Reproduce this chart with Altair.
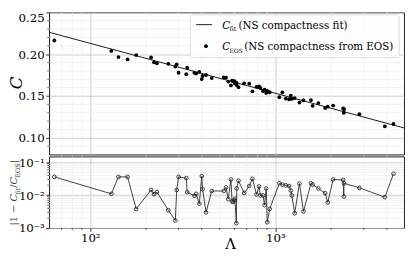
import altair as alt
import pandas as pd

# ---- data ----
lam = [64, 130, 142, 159, 177, 213, 221, 229, 264, 288,
       293, 300, 330, 334, 365, 373, 388, 400, 404, 422,
       453, 526, 541, 556, 575, 583, 590, 600, 604, 615,
       618, 632, 678, 722, 751, 791, 816, 830, 857, 874,
       892, 903, 931, 1050, 1090, 1137, 1185, 1210, 1226, 1270,
       1348, 1417, 1556, 1588, 1706, 1855, 1916, 2050, 2321, 2340,
       2345, 2840, 3900, 4340]
c_eos = [0.2164, 0.2039, 0.1965, 0.1937, 0.1989, 0.1961, 0.1903, 0.1891, 0.1885, 0.1852,
         0.1878, 0.1778, 0.1760, 0.1839, 0.1777, 0.1768, 0.1788, 0.1703, 0.1740, 0.1751,
         0.1715, 0.1722, 0.1721, 0.1672, 0.1626, 0.1683, 0.1679, 0.1677, 0.1650, 0.1660,
         0.1631, 0.1606, 0.1652, 0.1648, 0.1556, 0.1610, 0.1614, 0.1596, 0.1558, 0.1575,
         0.1537, 0.1561, 0.1545, 0.1485, 0.1544, 0.1469, 0.1461, 0.1503, 0.1465, 0.1475,
         0.1422, 0.1447, 0.1451, 0.1383, 0.1416, 0.1356, 0.1372, 0.1386, 0.1352, 0.1300,
         0.1342, 0.1283, 0.1138, 0.1166]
resid = [0.036, 0.011, 0.036, 0.036, 0.0038, 0.0144, 0.0107, 0.0125, 0.0035, 0.0017,
         0.0144, 0.036, 0.033, 0.0123, 0.0096, 0.011, 0.0055, 0.038, 0.0153, 0.003,
         0.0134, 0.0134, 0.0172, 0.0076, 0.030, 0.0065, 0.0062, 0.007, 0.0078, 0.0014,
         0.016, 0.0276, 0.0117, 0.019, 0.0316, 0.0105, 0.0184, 0.0098, 0.0098, 0.005,
         0.016, 0.0015, 0.0038, 0.023, 0.021, 0.020, 0.019, 0.0138, 0.0098, 0.0028,
         0.0226, 0.0032, 0.023, 0.021, 0.016, 0.0115, 0.006, 0.030, 0.029, 0.0091,
         0.023, 0.0167, 0.0087, 0.045]
fit_lam = [60, 4950]
fit_c = [0.2262, 0.1118]

x_major = [100, 1000]
x_minor = [70, 80, 90, 200, 300, 400, 500, 600, 700, 800, 900, 2000, 3000, 4000]
c_major = [0.10, 0.15, 0.20, 0.25]
c_minor = [0.09, 0.11, 0.12, 0.13, 0.14, 0.16, 0.17, 0.18, 0.19, 0.21, 0.22, 0.23, 0.24]
r_major = [0.001, 0.01, 0.1]
r_minor = [0.002, 0.003, 0.004, 0.005, 0.006, 0.007, 0.008, 0.009,
           0.02, 0.03, 0.04, 0.05, 0.06, 0.07, 0.08, 0.09]

W, H1, H2 = 362, 145, 73
FONT = "DejaVu Serif"
MAJ = "#c0c0c0"
MIN = "#ebebeb"

xscale = alt.Scale(type="log", domain=[60, 4950], nice=False)
cscale = alt.Scale(domain=[0.08, 0.25], nice=False, zero=False)
rscale = alt.Scale(type="log", domain=[0.001, 0.15], nice=False)

pts = pd.DataFrame({"lam": lam, "C": c_eos, "r": resid})
fit = pd.DataFrame({"lam": fit_lam, "C": fit_c})
xmin_df = pd.DataFrame({"lam": x_minor})
cmin_df = pd.DataFrame({"C": c_minor})
rmin_df = pd.DataFrame({"r": r_minor})

ax_x_top = alt.Axis(values=x_major, grid=True, gridColor=MAJ, gridWidth=0.8,
                    labels=False, ticks=False, domain=False, title=None)
ax_c = alt.Axis(values=c_major, format=".2f", grid=True, gridColor=MAJ, gridWidth=0.8,
                tickSize=3.5, tickColor="black", tickWidth=0.8, domain=False,
                labelFont=FONT, labelFontSize=12, labelColor="black", labelPadding=1.5,
                labelFlush=True, title=None)
ax_x_bot = alt.Axis(values=x_major, grid=True, gridColor=MAJ, gridWidth=0.8,
                    labelExpr="datum.value < 500 ? '10²' : '10³'",
                    tickSize=3.5, tickColor="black", tickWidth=0.8, domain=False,
                    labelFont=FONT, labelFontSize=12, labelColor="black", labelPadding=1.5,
                    title=None)
ax_r = alt.Axis(values=r_major, grid=True, gridColor=MAJ, gridWidth=0.8,
                labelExpr="datum.value < 0.005 ? '10⁻³' : (datum.value < 0.05 ? '10⁻²' : '10⁻¹')",
                tickSize=3.5, tickColor="black", tickWidth=0.8, domain=False,
                labelFont=FONT, labelFontSize=12, labelColor="black", labelPadding=1.5,
                title=None)

# ---------------- top panel ----------------
t_vmin = alt.Chart(xmin_df).mark_rule(color=MIN, strokeWidth=0.7).encode(
    x=alt.X("lam:Q", scale=xscale, axis=ax_x_top))
t_hmin = alt.Chart(cmin_df).mark_rule(color=MIN, strokeWidth=0.7).encode(
    y=alt.Y("C:Q", scale=cscale, axis=ax_c))
t_ytick = alt.Chart(cmin_df).mark_rule(color="black", strokeWidth=0.6).encode(
    y=alt.Y("C:Q", scale=cscale, axis=ax_c), x=alt.value(0), x2=alt.value(-2))
t_fit = alt.Chart(fit).mark_line(color="black", strokeWidth=0.9).encode(
    x=alt.X("lam:Q", scale=xscale, axis=ax_x_top),
    y=alt.Y("C:Q", scale=cscale, axis=ax_c))
t_pts = alt.Chart(pts).mark_circle(color="black", size=15, opacity=1).encode(
    x=alt.X("lam:Q", scale=xscale, axis=ax_x_top),
    y=alt.Y("C:Q", scale=cscale, axis=ax_c))

one = pd.DataFrame({"t": ["C"]})
t_title = alt.Chart(one).mark_text(font=FONT, fontStyle="italic", fontSize=17, angle=270,
                                   align="center", baseline="middle", color="black").encode(
    text="t:N", x=alt.value(-32.5), y=alt.value(72))

# legend
leg_box = alt.Chart(one).mark_rect(fill="white", fillOpacity=0.8, stroke="#d4d4d4",
                                   strokeWidth=0.8, cornerRadius=2).encode(
    x=alt.value(144), x2=alt.value(357), y=alt.value(2.5), y2=alt.value(46))
leg_line = alt.Chart(one).mark_rule(color="black", strokeWidth=0.9).encode(
    x=alt.value(150), x2=alt.value(166), y=alt.value(12.5))
leg_dot = alt.Chart(one).mark_circle(color="black", size=15, opacity=1).encode(
    x=alt.value(160), y=alt.value(34.5))


def txt(s, x, y, size=10.5, style="normal"):
    return alt.Chart(pd.DataFrame({"t": [s]})).mark_text(
        font=FONT, fontSize=size, fontStyle=style, align="left", baseline="alphabetic",
        color="black").encode(text="t:N", x=alt.value(x), y=alt.value(y))


leg_txt = [
    txt("C", 176.5, 16.5, 10.5, "italic"),
    txt("fit", 184, 19, 6.5),
    txt("(NS compactness fit)", 193, 16.5, 10.5),
    txt("C", 176.5, 38.5, 10.5, "italic"),
    txt("EOS", 184, 41, 6),
    txt("(NS compactness from EOS)", 199, 38.5, 10.5),
]

top = alt.layer(t_vmin, t_hmin, t_ytick, t_fit, t_pts, t_title, leg_box, leg_line, leg_dot,
                *leg_txt).properties(width=W, height=H1)

# ---------------- bottom panel ----------------
b_vmin = alt.Chart(xmin_df).mark_rule(color=MIN, strokeWidth=0.7).encode(
    x=alt.X("lam:Q", scale=xscale, axis=ax_x_bot))
b_xtick = alt.Chart(xmin_df).mark_rule(color="black", strokeWidth=0.6).encode(
    x=alt.X("lam:Q", scale=xscale, axis=ax_x_bot), y=alt.value(H2), y2=alt.value(H2 + 2))
b_hmin = alt.Chart(rmin_df).mark_rule(color=MIN, strokeWidth=0.7).encode(
    y=alt.Y("r:Q", scale=rscale, axis=ax_r))
b_ytick = alt.Chart(rmin_df).mark_rule(color="black", strokeWidth=0.6).encode(
    y=alt.Y("r:Q", scale=rscale, axis=ax_r), x=alt.value(0), x2=alt.value(-2))
b_line = alt.Chart(pts).mark_line(color="#2a2a2a", strokeWidth=0.9).encode(
    x=alt.X("lam:Q", scale=xscale, axis=ax_x_bot),
    y=alt.Y("r:Q", scale=rscale, axis=ax_r))
b_pts = alt.Chart(pts).mark_point(filled=False, stroke="#2a2a2a", strokeWidth=0.9,
                                  size=14, opacity=1).encode(
    x=alt.X("lam:Q", scale=xscale, axis=ax_x_bot),
    y=alt.Y("r:Q", scale=rscale, axis=ax_r))

# x-axis title
b_xtitle = alt.Chart(pd.DataFrame({"t": ["Λ"]})).mark_text(
    font=FONT, fontSize=15, align="center", baseline="bottom", color="black").encode(
    text="t:N", x=alt.value(185), y=alt.value(H2 + 24))

# rotated residual label: |1 - C_fit / C_EOS|
BX = -32.5
ylab_parts = [
    ("|1 − ", BX, 70.5, 10, "normal"),
    ("C", BX, 46, 10, "italic"),
    ("fit", BX + 2.5, 39, 6.5, "normal"),
    ("/", BX, 32, 10, "normal"),
    ("C", BX, 28.6, 10, "italic"),
    ("EOS", BX + 2.5, 21.6, 6.5, "normal"),
    ("|", BX, 7, 10, "normal"),
]
ylab = [alt.Chart(pd.DataFrame({"t": [s]})).mark_text(
    font=FONT, fontSize=sz, fontStyle=st, angle=270, align="left", baseline="alphabetic",
    color="#3a3a3a").encode(text="t:N", x=alt.value(x), y=alt.value(y))
    for (s, x, y, sz, st) in ylab_parts]

bottom = alt.layer(b_vmin, b_hmin, b_xtick, b_ytick, b_line, b_pts, b_xtitle,
                   *ylab).properties(width=W, height=H2)

chart = alt.vconcat(top, bottom, spacing=0).properties(
    padding={"left": 0, "top": 0, "right": 0, "bottom": 0}
).configure_view(stroke="black", strokeWidth=0.9)

chart.save("out.html", embed_options={"renderer": "svg", "actions": False})
